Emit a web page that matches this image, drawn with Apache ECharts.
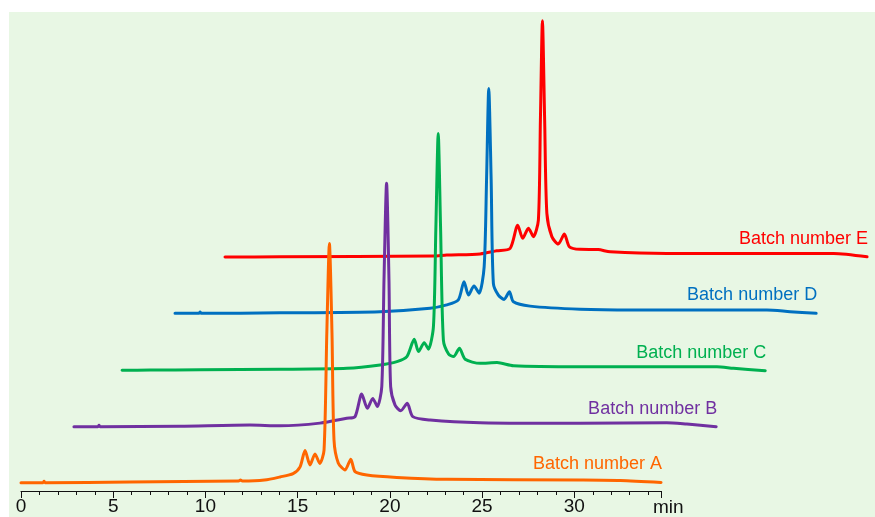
<!DOCTYPE html>
<html>
<head>
<meta charset="utf-8">
<script src="https://cdn.jsdelivr.net/npm/echarts@6/dist/echarts.min.js"></script>
<style>
  html, body { margin: 0; padding: 0; background: #ffffff; }
  #main { width: 875px; height: 517px; }
</style>
</head>
<body>
<div id="main"></div>
<script>
// chromatograms, [retention time (min), signal] per batch
var batchA = [[0,0],[1.2,0],[1.25,0.3],[1.3,0],[5.9,0.15],[11.8,0.35],[11.9,0.55],[12,0.35],[13.2,0.55],[14.05,1.2],[14.75,1.9],[15.13,3.3],[15.4,6.7],[15.67,3.7],[15.94,6.0],[16.2,4.0],[16.43,6.8],[16.58,31.2],[16.72,49.9],[16.86,31.2],[16.97,8.9],[17.2,4.1],[17.57,2.65],[17.88,4.9],[18.11,2.3],[18.75,1.6],[20.37,1.1],[23.09,0.7],[30.3,0.55],[32.5,0.45],[34.7,0.05]];
var batchB = [[0,0],[1.3,0],[1.36,0.3],[1.42,0],[5.75,0.1],[9.54,0.35],[11.17,0.2],[13.34,0.75],[14.79,1.75],[15.24,2.1],[15.6,6.8],[15.91,3.85],[16.2,5.9],[16.45,4.2],[16.69,8.35],[16.81,30.6],[16.95,50.8],[17.08,30.6],[17.17,8.35],[17.41,4.5],[17.72,3.35],[18.07,4.9],[18.37,2.1],[19.31,1.4],[22.02,0.85],[27.44,0.7],[32.14,0.85],[33.23,0.55],[34.82,0]];
var batchC = [[0,0],[1.52,0.05],[4.23,0.1],[8.57,0.2],[12.19,0.4],[13.99,1.1],[14.9,1.8],[15.44,2.85],[15.84,6.45],[16.07,3.9],[16.38,5.75],[16.61,4.4],[16.88,9.1],[17.01,29.3],[17.14,49.4],[17.27,29.3],[17.42,6.3],[17.7,3.4],[17.97,2.85],[18.29,4.6],[18.6,2.3],[19.41,1.45],[20.33,1.6],[21.22,0.95],[24.84,0.75],[32.25,0.75],[33.15,0.4],[34.87,-0.1]];
var batchD = [[0,0],[1.3,0],[1.36,0.25],[1.42,0],[5.69,0.1],[11.12,0.35],[13.83,1.05],[14.73,1.75],[15.36,2.8],[15.67,6.6],[15.91,3.8],[16.21,5.7],[16.49,4.2],[16.76,9.7],[16.89,27.8],[17.01,46.9],[17.14,27.8],[17.26,6.25],[17.53,3.8],[17.84,2.9],[18.13,4.5],[18.35,2.4],[19.25,1.5],[21.96,0.85],[24.84,0.7],[32.09,0.7],[33.35,0.35],[34.76,0]];
var batchE = [[0,0],[2.98,0.05],[11.3,0.2],[12.02,0.4],[13.83,0.65],[14.73,1.3],[15.46,1.8],[15.87,6.65],[16.14,3.9],[16.45,6.0],[16.72,4.25],[16.99,7.7],[17.1,28.6],[17.21,49.3],[17.33,28.6],[17.45,9.1],[17.72,4.25],[18.07,2.7],[18.4,4.8],[18.67,2.15],[19.25,1.6],[20.23,1.55],[20.88,1.1],[23.96,0.75],[33.0,0.75],[34.81,0.05]];

var batchNames = ['Batch number A', 'Batch number B', 'Batch number C', 'Batch number D', 'Batch number E'];
var batchData = [batchA, batchB, batchC, batchD, batchE];
// stacking offsets of each trace (time shift in min, signal shift)
var shiftMin = [0, 2.87, 5.48, 8.35, 11.06];
var shiftSignal = [1.84, 13.51, 25.28, 37.16, 48.9];

var colors = ['#ff6600', '#7030a0', '#00b050', '#0070c0', '#ff0000'];
var font = 'Liberation Sans, Arial, sans-serif';

var myChart = echarts.init(document.getElementById('main'));

var series = batchData.map(function(d, i) {
    return {
        name: batchNames[i],
        type: 'line',
        xAxisIndex: 0,
        yAxisIndex: 0,
        showSymbol: false,
        smooth: 0.25,
        z: 10 - i,
        data: d.map(function(p) { return [p[0] + shiftMin[i], p[1] + shiftSignal[i]]; }),
        lineStyle: { color: colors[i], width: 3, cap: 'round', join: 'round' },
        itemStyle: { color: colors[i] },
        endLabel: {
            show: true,
            formatter: batchNames[i],
            color: colors[i],
            fontSize: 18,
            fontFamily: font,
            align: 'right',
            verticalAlign: 'middle',
            distance: 0,
            offset: [1, -18]
        }
    };
});

var option = {
    animation: false,
    backgroundColor: '#ffffff',
    graphic: [{
        type: 'rect',
        left: 9,
        top: 12,
        z: -10,
        shape: { width: 866, height: 505 },
        style: { fill: '#e8f7e4' }
    }],
    grid: [
        // traces (wider than the axis, shifted traces run past it)
        { left: 21, width: 854, top: 12, bottom: 25.5 },
        // visible time axis
        { left: 21, width: 640, top: 12, bottom: 25.5 }
    ],
    xAxis: [{
        type: 'value',
        gridIndex: 0,
        min: 0,
        max: 46.3,
        show: false,
        splitLine: { show: false }
    }, {
        type: 'value',
        gridIndex: 1,
        min: 0,
        max: 34.7,
        interval: 1,
        name: 'min',
        nameLocation: 'end',
        nameGap: -8,
        nameTextStyle: {
            fontSize: 19,
            color: '#111',
            fontFamily: font,
            verticalAlign: 'top',
            padding: [7, 0, 0, 0]
        },
        splitLine: { show: false },
        axisLine: { lineStyle: { color: '#111', width: 1 } },
        axisTick: { interval: 0, length: 4, lineStyle: { color: '#111' } },
        axisLabel: {
            interval: 0,
            margin: 6,
            fontSize: 19,
            color: '#111',
            fontFamily: font,
            formatter: function(v) { return (Math.abs(v % 5) < 1e-6) ? String(v) : ''; }
        }
    }, {
        type: 'value',
        gridIndex: 1,
        position: 'bottom',
        min: 0,
        max: 34.7,
        interval: 5,
        splitLine: { show: false },
        axisLine: { show: false },
        axisTick: { length: 7, lineStyle: { color: '#111' } },
        axisLabel: { show: false }
    }],
    yAxis: [{
        type: 'value',
        gridIndex: 0,
        min: 0,
        max: 100,
        show: false,
        splitLine: { show: false }
    }, {
        type: 'value',
        gridIndex: 1,
        min: 0,
        max: 1,
        show: false,
        splitLine: { show: false }
    }],
    series: series
};

myChart.setOption(option);
</script>
</body>
</html>
